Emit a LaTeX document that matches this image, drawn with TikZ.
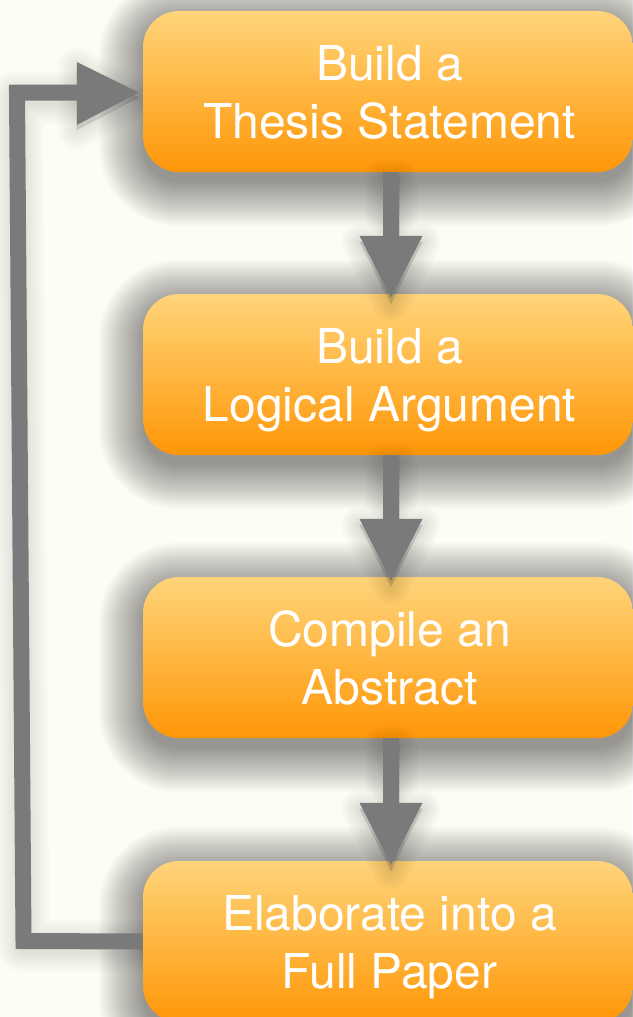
\documentclass[tikz,border=0pt]{standalone}
\usepackage{fontspec}
\setmainfont{TeX Gyre Heros}
\usetikzlibrary{calc}
\pgfdeclarelayer{back}
\pgfdeclarelayer{shade}
\pgfsetlayers{back,shade,main}
\definecolor{bgc}{RGB}{253,252,245}
\definecolor{orTop}{RGB}{255,212,122}
\definecolor{orMid}{RGB}{255,182,64}
\definecolor{orBot}{RGB}{255,150,8}
\definecolor{agray}{RGB}{122,122,122}
% vertical block arrow from node #1 to node #2, shifted down by #3
\newcommand\vpath[3]{($(#1.south)+(-5,#3)$) -- ($(#2.north)+(-5,-58+#3)$) -- ($(#2.north)+(-28.5,-58+#3)$) -- ($(#2.north)+(3,4+#3)$) -- ($(#2.north)+(34.5,-58+#3)$) -- ($(#2.north)+(11,-58+#3)$) -- ($(#1.south)+(11,#3)$) -- cycle}
\begin{document}
\begin{tikzpicture}[x=1pt,y=-1pt,
  box/.style={minimum width=490pt, minimum height=161pt, rounded corners=36pt,
    inner sep=0pt, draw=none, top color=orTop, bottom color=orBot, middle color=orMid},
  txt/.style={text=white, font=\fontsize{48}{59}\selectfont, anchor=base, inner sep=0pt},
  fbline/.style={line width=16pt, line join=miter, line cap=butt}]
\useasboundingbox (0,0) rectangle (632,1017);
\begin{pgfonlayer}{back}
\fill[bgc] (0,0) rectangle (632,1017);
\end{pgfonlayer}

\node[box] (b1) at (388,91.5) {};
\node[box] (b2) at (388,374.5) {};
\node[box] (b3) at (388,657.5) {};
\node[box] (b4) at (388,941.5) {};

\coordinate (fbB) at (23.5,941);
\coordinate (fbT) at (17,92.5);
\coordinate (fbH) at ($(b1.west)+(-66,1)$);

\begin{pgfonlayer}{shade}
\foreach \n in {b1,b2,b3,b4}{
  \foreach \e in {0,2,...,44}{
    \pgfmathsetmacro\rr{36+\e}
    \fill[black,opacity=0.019,rounded corners=\rr pt]
      ($(\n.north west)+(-\e,-\e+10)$) rectangle ($(\n.south east)+(\e,\e+10)$);
  }
}
\foreach \w in {52,46,...,16}{
  \draw[black,opacity=0.016,line width=\w pt,line join=round]
    ($(b4.west)+(0,5)$) -- ($(fbB)+(0,5)$) -- ($(fbT)+(0,5)$) -- ($(fbH)+(0,5)$);
  \path[draw=black,fill=black,opacity=0.016,line width=\w pt-14pt,line join=round]
    ($(fbH)+(0,-30.5+5)$) -- ($(b1.west)+(-4,1+5)$) -- ($(fbH)+(0,32.5+5)$) -- cycle;
}
\end{pgfonlayer}

% shadows of the vertical arrows
\foreach \w in {36,30,...,0}{
  \path[draw=black,fill=black,opacity=0.02,line width=\w pt,line join=round] \vpath{b1}{b2}{6};
  \path[draw=black,fill=black,opacity=0.02,line width=\w pt,line join=round] \vpath{b2}{b3}{6};
  \path[draw=black,fill=black,opacity=0.02,line width=\w pt,line join=round] \vpath{b3}{b4}{6};
}

% vertical arrows
\fill[agray] \vpath{b1}{b2}{0};
\fill[agray] \vpath{b2}{b3}{0};
\fill[agray] \vpath{b3}{b4}{0};

% feedback arrow
\draw[agray,fbline] (b4.west) -- (fbB) -- (fbT) -- ($(fbH)+(1,0)$);
\fill[agray] ($(fbH)+(0,-30.5)$) -- ($(b1.west)+(-4,1)$) -- ($(fbH)+(0,32.5)$) -- cycle;

% texts
\node[txt] (t1a) at ($(b1.center)+(1.5,-11.5)$) {Build a};
\node[txt] (t1b) at ($(b1.center)+(1.5,47)$) {Thesis Statement};
\node[txt] (t2a) at ($(b2.center)+(1.5,-11.5)$) {Build a};
\node[txt] (t2b) at ($(b2.center)+(1.5,47)$) {Logical Argument};
\node[txt] (t3a) at ($(b3.center)+(1.5,-11.5)$) {Compile an};
\node[txt] (t3b) at ($(b3.center)+(1.5,47)$) {Abstract};
\node[txt] (t4a) at ($(b4.center)+(1.5,-11.5)$) {Elaborate into a};
\node[txt] (t4b) at ($(b4.center)+(1.5,47)$) {Full Paper};
\end{tikzpicture}
\end{document}
